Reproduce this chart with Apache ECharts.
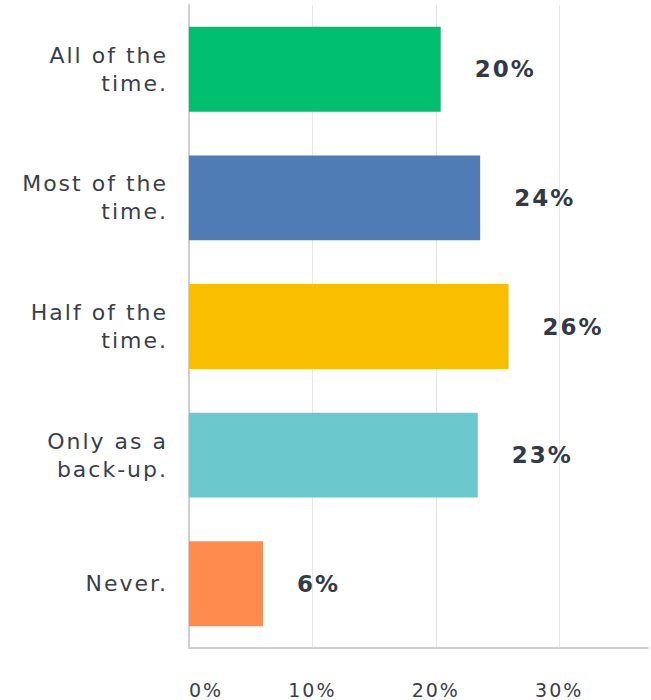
<!DOCTYPE html>
<html>
<head>
<meta charset="utf-8">
<script src="https://cdn.jsdelivr.net/npm/echarts@6/dist/echarts.min.js"></script>
<style>
html,body{margin:0;padding:0;background:#fff}
#c{width:651px;height:700px}
#c text{letter-spacing:2px}
</style>
</head>
<body>
<div id="c"></div>
<script>
const categories = ["All of the\ntime.", "Most of the\ntime.", "Half of the\ntime.", "Only as a\nback-up.", "Never."];
const values = [20.4, 23.6, 25.9, 23.4, 6.0];
const colors = ["#00BF6F", "#507CB6", "#F9BE00", "#6BC8CD", "#FF8B4F"];
const tickStep = 10;
const axisMax = 37.2;

const chart = echarts.init(document.getElementById('c'), null, {renderer: 'svg'});
chart.setOption({
  animation: false,
  grid: {left: 189, right: 0, top: 5, bottom: 52, containLabel: false},
  xAxis: {
    type: 'value', min: 0, max: axisMax, interval: tickStep,
    axisLine: {show: true, lineStyle: {color: '#cfcfcf', width: 2}},
    axisTick: {show: false},
    splitLine: {show: true, showMaxLine: false, lineStyle: {color: '#e6e6e6', width: 1}},
    axisLabel: {
      formatter: v => (v % tickStep === 0 ? v + '%' : ''),
      alignMinLabel: 'left',
      margin: 32, fontSize: 19, color: '#3a3f4a', fontFamily: 'DejaVu Sans'
    }
  },
  yAxis: {
    type: 'category', inverse: true, data: categories,
    axisLine: {show: true, lineStyle: {color: '#cfcfcf', width: 2}},
    axisTick: {show: false},
    axisLabel: {margin: 21, fontSize: 22, lineHeight: 28, color: '#3a3f4a', fontFamily: 'DejaVu Sans', align: 'right'}
  },
  series: [{
    type: 'bar',
    data: values.map((v, i) => ({value: v, itemStyle: {color: colors[i]}})),
    barCategoryGap: '34%',
    label: {
      show: true, position: 'right', distance: 34,
      formatter: p => Math.round(p.value) + '%',
      fontSize: 23, fontWeight: 'bold', color: '#333a44', fontFamily: 'DejaVu Sans'
    }
  }]
});
</script>
</body>
</html>
